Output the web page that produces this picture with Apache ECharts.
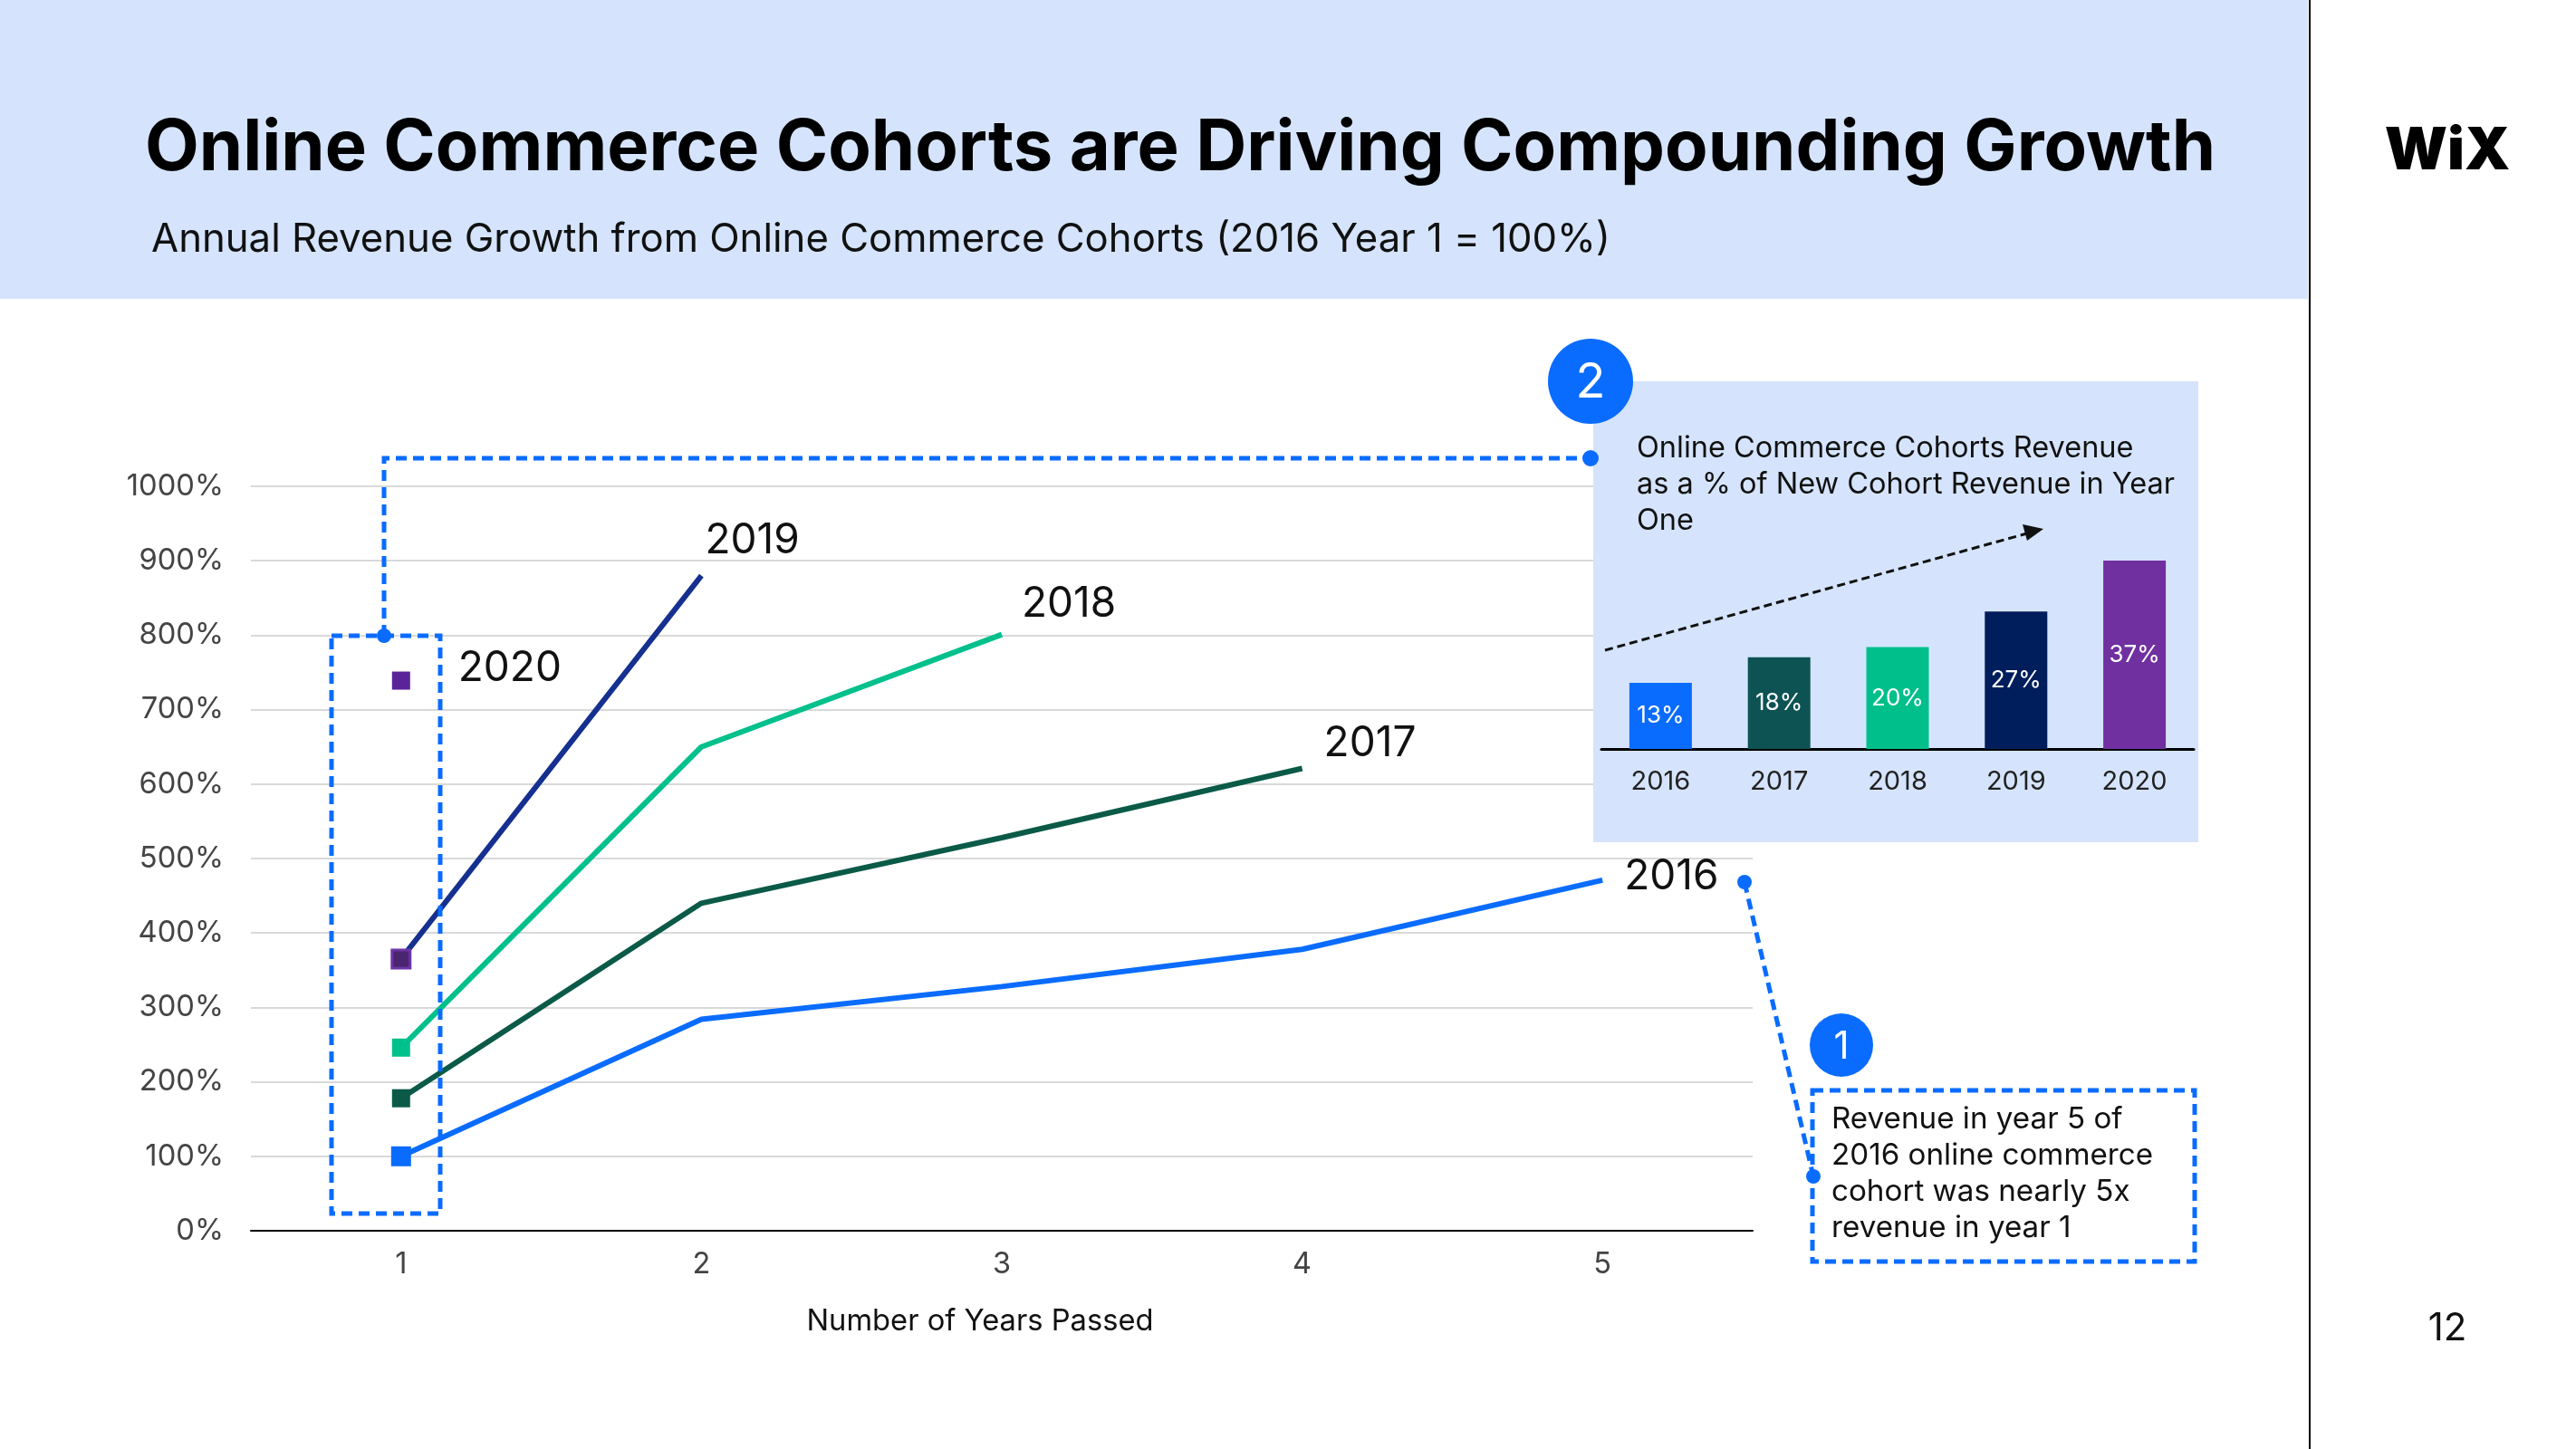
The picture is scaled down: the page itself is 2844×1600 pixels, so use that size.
<!DOCTYPE html>
<html><head><meta charset="utf-8">
<script src="https://cdn.jsdelivr.net/npm/echarts@6/dist/echarts.min.js"></script>
<style>html,body{margin:0;padding:0;background:#fff}#c{width:2844px;height:1600px}</style>
</head><body><div id="c"></div>
<script>
// ---- data ----
const yearsPassed = ['1', '2', '3', '4', '5'];
const cohortNames = ['2016', '2017', '2018', '2019', '2020'];
const cohort2016 = [100, 284, 328, 378, 471];
const cohort2017 = [178, 440, 528, 621];
const cohort2018 = [246, 650, 801];
const cohort2019 = [365, 880];
const cohort2020 = [739];
const insetYears = ['2016', '2017', '2018', '2019', '2020'];
const insetShare = [13, 18, 20, 27, 37];
const titleText = 'Online Commerce Cohorts are Driving Compounding Growth';
const subtitleText = 'Annual Revenue Growth from Online Commerce Cohorts (2016 Year 1 = 100%)';
const insetTitleLines = ['Online Commerce Cohorts Revenue', 'as a % of New Cohort Revenue in Year', 'One'];
const note1Lines = ['Revenue in year 5 of', '2016 online commerce', 'cohort was nearly 5x', 'revenue in year 1'];

// ---- styles ----
const FONT = 'Inter';
const BLUE = '#0a6cff';
const lineColors = ['#0a6cff', '#0b5a48', '#00c08b', '#15308f', '#5b2399'];
const barColors = ['#0a6cff', '#0d5353', '#00bf8a', '#001d5c', '#7030a0'];
const PANEL = '#d5e4fc';

function fitSize(text, weight, target) {
  const c = document.createElement('canvas').getContext('2d');
  c.font = weight + ' 100px ' + FONT;
  return 100 * target / c.measureText(text).width;
}
const titleSize = fitSize(titleText, 'bold', 2285);
const subSize = fitSize(subtitleText, 'normal', 1612);

const labelOffsets = [[24, -4], [24, -27], [22, -33], [4, -38], [53, -13]];
const allSeries = [cohort2016, cohort2017, cohort2018, cohort2019, cohort2020];

function lineSeries(idx) {
  const arr = allSeries[idx];
  const col = lineColors[idx];
  return {
    type: 'line', name: cohortNames[idx], xAxisIndex: 0, yAxisIndex: 0, z: 3,
    symbol: 'rect', showSymbol: true, symbolSize: 0,
    lineStyle: { color: col, width: 6 },
    itemStyle: { color: col },
    animation: false,
    data: arr.map((v, i) => {
      const d = { value: v };
      if (i === 0) {
        d.symbolSize = idx === 0 ? 22 : 20;
        d.itemStyle = idx === 3 ? { color: '#4b2570', borderColor: '#6d35a8', borderWidth: 3 } : { color: col };
      }
      if (i === arr.length - 1) {
        d.label = { show: true, position: 'right', distance: 0, offset: labelOffsets[idx],
          formatter: cohortNames[idx], fontFamily: FONT, fontSize: 46, color: '#111' };
      }
      return d;
    })
  };
}

const dash = [12, 7];
const annot = [];
// header band & divider
annot.push({ type: 'rect', z: 0, shape: { x: 0, y: 0, width: 2548, height: 330 }, style: { fill: PANEL } });
annot.push({ type: 'line', z: 5, shape: { x1: 2550, y1: 0, x2: 2550, y2: 1600 }, style: { stroke: '#000', lineWidth: 2 } });
annot.push({ type: 'text', z: 6, x: 160, y: 165, style: { text: titleText, font: 'bold ' + titleSize.toFixed(1) + 'px ' + FONT, fill: '#000', verticalAlign: 'middle' } });
annot.push({ type: 'text', z: 6, x: 167, y: 265, style: { text: subtitleText, font: subSize.toFixed(1) + 'px ' + FONT, fill: '#111', verticalAlign: 'middle' } });
annot.push({ type: 'text', z: 6, x: 2702, y: 168, style: { text: 'WiX', font: '900 64px ' + FONT, fill: '#000', align: 'center', verticalAlign: 'middle' } });
annot.push({ type: 'text', z: 6, x: 2702, y: 1467, style: { text: '12', font: '42px ' + FONT, fill: '#111', align: 'center', verticalAlign: 'middle' } });
// inset panel
annot.push({ type: 'rect', z: 1, shape: { x: 1759, y: 421, width: 668, height: 509 }, style: { fill: PANEL } });
annot.push({ type: 'text', z: 6, x: 1807, y: 475, style: { text: insetTitleLines.join('\n'), font: '32.5px ' + FONT, lineHeight: 40, fill: '#111', verticalAlign: 'top' } });
annot.push({ type: 'line', z: 6, shape: { x1: 1772, y1: 718, x2: 2238, y2: 589 }, style: { stroke: '#111', lineWidth: 3, lineDash: [9, 5] } });
annot.push({ type: 'polygon', z: 6, shape: { points: [[2256, 584], [2233, 579], [2238, 597]] }, style: { fill: '#111' } });
annot.push({ type: 'circle', z: 7, shape: { cx: 1756, cy: 421, r: 47 }, style: { fill: BLUE } });
annot.push({ type: 'text', z: 8, x: 1756, y: 423, style: { text: '2', font: '54px ' + FONT, fill: '#fff', align: 'center', verticalAlign: 'middle' } });
// year-1 box & connector
annot.push({ type: 'rect', z: 10, shape: { x: 366, y: 702, width: 120, height: 638 }, style: { fill: 'none', stroke: BLUE, lineWidth: 5, lineDash: dash } });
annot.push({ type: 'polyline', z: 10, shape: { points: [[424, 702], [424, 506], [1756, 506]] }, style: { fill: 'none', stroke: BLUE, lineWidth: 5, lineDash: dash } });
annot.push({ type: 'circle', z: 10, shape: { cx: 424, cy: 702, r: 8 }, style: { fill: BLUE } });
annot.push({ type: 'circle', z: 10, shape: { cx: 1756, cy: 506, r: 9 }, style: { fill: BLUE } });
// note 1
annot.push({ type: 'circle', z: 7, shape: { cx: 2033, cy: 1154, r: 35 }, style: { fill: BLUE } });
annot.push({ type: 'text', z: 8, x: 2033, y: 1156, style: { text: '1', font: '42px ' + FONT, fill: '#fff', align: 'center', verticalAlign: 'middle' } });
annot.push({ type: 'rect', z: 10, shape: { x: 2001, y: 1204, width: 422, height: 189 }, style: { fill: 'none', stroke: BLUE, lineWidth: 5, lineDash: dash } });
annot.push({ type: 'text', z: 10, x: 2022, y: 1216, style: { text: note1Lines.join('\n'), font: '33.2px ' + FONT, lineHeight: 40, fill: '#111', verticalAlign: 'top' } });
annot.push({ type: 'line', z: 10, shape: { x1: 1926, y1: 974, x2: 2002, y2: 1299 }, style: { stroke: BLUE, lineWidth: 5, lineDash: dash } });
annot.push({ type: 'circle', z: 10, shape: { cx: 1926, cy: 974, r: 8 }, style: { fill: BLUE } });
annot.push({ type: 'circle', z: 10, shape: { cx: 2002, cy: 1299, r: 8 }, style: { fill: BLUE } });

const option = {
  backgroundColor: '#fff',
  animation: false,
  textStyle: { fontFamily: FONT },
  grid: [
    { left: 277, top: 537, width: 1658, height: 822 },
    { left: 1768, top: 602, width: 654, height: 225 }
  ],
  xAxis: [
    { type: 'category', gridIndex: 0, data: yearsPassed, boundaryGap: true, z: 0,
      axisLine: { lineStyle: { color: '#000', width: 2 } }, axisTick: { show: false },
      axisLabel: { fontSize: 32.5, color: '#444', margin: 21, fontFamily: FONT },
      name: 'Number of Years Passed', nameLocation: 'middle', nameGap: 84,
      nameTextStyle: { fontSize: 32.7, color: '#111', fontFamily: FONT, padding: [0, 48, 0, 0] } },
    { type: 'category', gridIndex: 1, data: insetYears, z: 3,
      axisLine: { lineStyle: { color: '#000', width: 3 } }, axisTick: { show: false },
      axisLabel: { fontSize: 29, color: '#222', margin: 22, fontFamily: FONT } }
  ],
  yAxis: [
    { type: 'value', gridIndex: 0, min: 0, max: 1000, interval: 100, z: 0,
      axisLine: { show: false }, axisTick: { show: false },
      axisLabel: { formatter: v => v + '%', fontSize: 32.7, color: '#444', margin: 30, fontFamily: FONT },
      splitLine: { lineStyle: { color: '#d9d9d9', width: 2 } } },
    { type: 'value', gridIndex: 1, min: 0, max: 40, show: false }
  ],
  graphic: { elements: annot },
  series: [
    lineSeries(0), lineSeries(1), lineSeries(2), lineSeries(3), lineSeries(4),
    { type: 'bar', xAxisIndex: 1, yAxisIndex: 1, z: 4, barWidth: 69,
      data: insetShare.map((v, i) => ({ value: v, itemStyle: { color: barColors[i] } })),
      label: { show: true, position: 'inside', formatter: '{c}%', color: '#fff', fontSize: 26, fontFamily: FONT } }
  ]
};
const chart = echarts.init(document.getElementById('c'), null, { renderer: 'canvas' });
chart.setOption(option);
</script></body></html>
